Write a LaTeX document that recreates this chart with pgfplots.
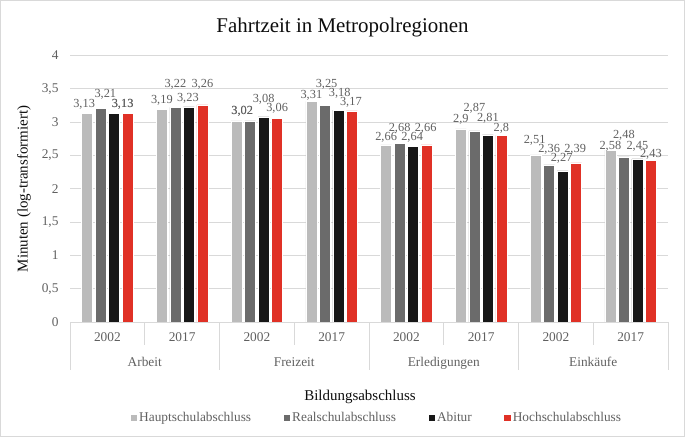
\documentclass[border=0pt]{standalone}
\usepackage{fontspec}
\setmainfont{Liberation Serif}
\usepackage{pgfplots}
\usepackage{pgfplotstable}
\pgfplotsset{compat=1.18}
\pgfkeys{/pgf/number format/assume math mode=true}

\definecolor{hauptcol}{RGB}{187,187,187}
\definecolor{realcol}{RGB}{107,107,107}
\definecolor{abicol}{RGB}{23,23,23}
\definecolor{hochcol}{RGB}{224,49,38}
\definecolor{gridcol}{RGB}{217,217,217}
\definecolor{labcol}{RGB}{96,96,96}
\definecolor{titlecol}{RGB}{13,13,13}

% x: 0/1 = Arbeit 2002/2017, 2/3 = Freizeit, 4/5 = Erledigungen, 6/7 = Einkaeufe
% dx, dy: offsets of the value labels (bp)
\pgfplotstableread{
x y dx dy
0 3.13 -3 0
1 3.19 0 0
2 3.02 5.6 0.7
3 3.31 0 -3
4 2.66 0 -1.4
5 2.90 0 1.1
6 2.51 -1 5.3
7 2.58 0 -4.6
}\haupt
\pgfplotstableread{
x y dx dy
0 3.21 4.7 5.4
1 3.22 0 14.7
2 3.02 -7.9 0.7
3 3.25 1.7 12.7
4 2.68 0 6.7
5 2.87 0 14
6 2.36 0 6.3
7 2.48 0 13
}\real
\pgfplotstableread{
x y dx dy
0 3.13 8.5 0.7
1 3.23 -1 0
2 3.08 0 8.7
3 3.18 1.4 8
4 2.64 -1 0
5 2.81 0 7.7
6 2.27 -1 3.6
7 2.45 0 4
}\abi
\pgfplotstableread{
x y dx dy
0 3.13 -5 0.7
1 3.26 0 12
2 3.06 0 1
3 3.17 -1 -0.6
4 2.66 -1 8
5 2.80 0 -1.3
6 2.39 -1 4.3
7 2.43 0 -3.3
}\hoch

\tikzset{catlab/.style={anchor=base, font=\fontsize{13.4}{16}\selectfont, text=labcol}}

\begin{document}
\begin{tikzpicture}
\useasboundingbox (0,0) rectangle (685bp,437bp);
\draw[gridcol, line width=0.75bp] (0.4bp,0.4bp) rectangle (684.6bp,436.6bp);

\node[font=\fontsize{21}{25}\selectfont, text=titlecol] at (342.5bp,409bp) {Fahrtzeit in Metropolregionen};
\node[font=\fontsize{15}{18}\selectfont, text=titlecol] at (360bp,40bp) {Bildungsabschluss};
\node[font=\fontsize{15}{18}\selectfont, text=titlecol, rotate=90] at (24bp,248bp) {Minuten (log-transformiert)};

\begin{axis}[
    at={(70bp,115bp)}, anchor=south west,
    scale only axis,
    width=598bp, height=266.5bp,
    xmin=-0.5, xmax=7.5,
    ymin=0, ymax=4,
    clip=false,
    ybar=2.5bp,
    bar width=11bp,
    legend image code/.code={\fill[#1] (0bp,-3.75bp) rectangle (7.5bp,3.75bp);},
    axis line style={draw=none},
    major tick length=0pt,
    ymajorgrids,
    grid style={gridcol, line width=0.75bp},
    ytick={0,0.5,1,1.5,2,2.5,3,3.5,4},
    yticklabel style={/pgf/number format/use comma, font=\fontsize{13.4}{16}\selectfont, text=labcol, xshift=-8bp},
    xtick={0,1,2,3,4,5,6,7},
    xticklabels={2002,2017,2002,2017,2002,2017,2002,2017},
    xticklabel style={font=\fontsize{13.4}{16}\selectfont, text=labcol, anchor=base, yshift=-19.5bp},
    nodes near coords={\pgfmathprintnumber[use comma]{\pgfplotspointmeta}},
    visualization depends on={\thisrow{dx}\as\dx},
    visualization depends on={\thisrow{dy}\as\dy},
    every node near coord/.append style={font=\fontsize{12.4}{15}\selectfont, text=labcol, xshift=\dx*1bp, yshift=\dy*1bp},
    legend columns=4,
    legend style={draw=none, fill=none, at={(0.512,-0.36)}, anchor=center,
        font=\fontsize{13.4}{16}\selectfont, text=labcol,
        nodes={inner sep=1.5bp},
        /tikz/every even column/.append style={column sep=30bp}},
]
\addplot[fill=hauptcol, draw=white, line width=0.5bp] table[x=x, y=y] {\haupt};
\addplot[fill=realcol, draw=white, line width=0.5bp] table[x=x, y=y] {\real};
\addplot[fill=abicol, draw=white, line width=0.5bp] table[x=x, y=y] {\abi};
\addplot[fill=hochcol, draw=white, line width=0.5bp] table[x=x, y=y] {\hoch};
\legend{Hauptschulabschluss, Realschulabschluss, Abitur, Hochschulabschluss}

% category table below the bars
\draw[gridcol, line width=0.75bp] (axis cs:-0.5,0) -- (axis cs:7.5,0);
\pgfplotsinvokeforeach{-0.5,1.5,3.5,5.5,7.5}{
  \draw[gridcol, line width=0.75bp] (axis cs:#1,0) -- ([yshift=-48bp]axis cs:#1,0);
}
\pgfplotsinvokeforeach{0.5,2.5,4.5,6.5}{
  \draw[gridcol, line width=0.75bp] (axis cs:#1,0) -- ([yshift=-23bp]axis cs:#1,0);
}
\node[catlab] at ([yshift=-44bp]axis cs:0.5,0) {Arbeit};
\node[catlab] at ([yshift=-44bp]axis cs:2.5,0) {Freizeit};
\node[catlab] at ([yshift=-44bp]axis cs:4.5,0) {Erledigungen};
\node[catlab] at ([yshift=-44bp]axis cs:6.5,0) {Einkäufe};
\end{axis}
\end{tikzpicture}
\end{document}
